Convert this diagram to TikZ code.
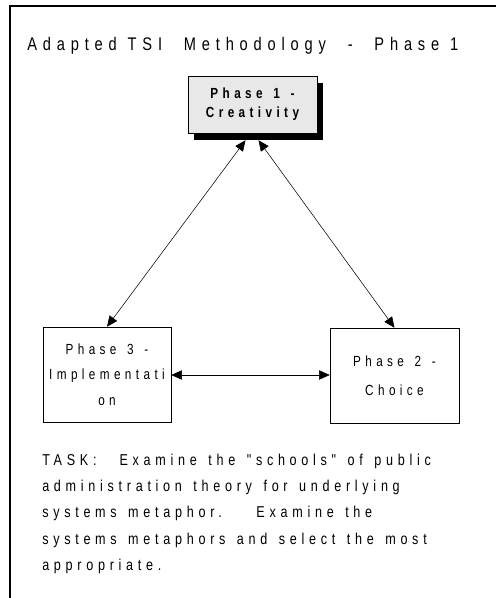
\documentclass[tikz,border=0pt]{standalone}
\usepackage{fontspec}
\newfontfamily\scanfont[LetterSpace=30,FakeStretch=0.8,WordSpace=1.4]{Liberation Sans}
\newfontfamily\titlefont[LetterSpace=32,FakeStretch=0.8,WordSpace=1.1]{Liberation Sans}
\usetikzlibrary{arrows.meta,shadows,calc}

\begin{document}
\begin{tikzpicture}
        [x=0.75pt, y=-0.75pt,
         phase/.style={rectangle,draw=black,thin,align=center,inner sep=0pt,
                       font=\scanfont\fontsize{11}{19}\selectfont},
         active/.style={phase,fill=black!9,
                        drop shadow={shadow xshift=4.5pt,shadow yshift=-5pt,fill=black,opacity=1}},
         link/.style={thin,{Triangle[length=8pt,width=7pt]}-{Triangle[length=8pt,width=7pt]}}]
        \useasboundingbox (0,0) rectangle (496,598);
        \draw[line width=1.5pt] (10,598) -- (10,6) -- (496,6);
        \node (title) at (27,46) [anchor=west,inner sep=0pt,font=\titlefont\fontsize{13.7}{16}\selectfont]
              {Adapted TSI\ \ Methodology\ \ -\ \ Phase 1};
        \node (p1) at (252.5,104.5) [active,minimum width=96.75pt,minimum height=42.75pt,
              font=\scanfont\bfseries\fontsize{11}{14}\selectfont]
              {Phase 1 -\\Creativity};
        \node (p3) at (107,374.5) [phase,minimum width=96pt,minimum height=71.25pt]
              {Phase 3 -\\Implementati\\on};
        \node (p2) at (394.5,375.5) [phase,minimum width=96.75pt,minimum height=71.25pt,
              font=\scanfont\fontsize{11}{22}\selectfont]
              {Phase 2 -\\Choice};
        \coordinate (p1l) at ($(p1.south)+(-7,7)$);
        \coordinate (p1r) at ($(p1.south)+(6,7)$);
        \draw[link] (p1l) -- (p3.north);
        \draw[link] (p1r) -- (p2.north);
        \draw[link] (p3.east |- 0,375) -- (p2.west |- 0,375);
        \node (task) at (42,454) [anchor=north west,align=left,inner sep=0pt,
              font=\scanfont\fontsize{11.8}{19.6}\selectfont]
              {TASK:\ \ Examine the "schools" of public\\
               administration theory for underlying\\
               systems metaphor.\ \ \ Examine the\\
               systems metaphors and select the most\\
               appropriate.};
\end{tikzpicture}
\end{document}
